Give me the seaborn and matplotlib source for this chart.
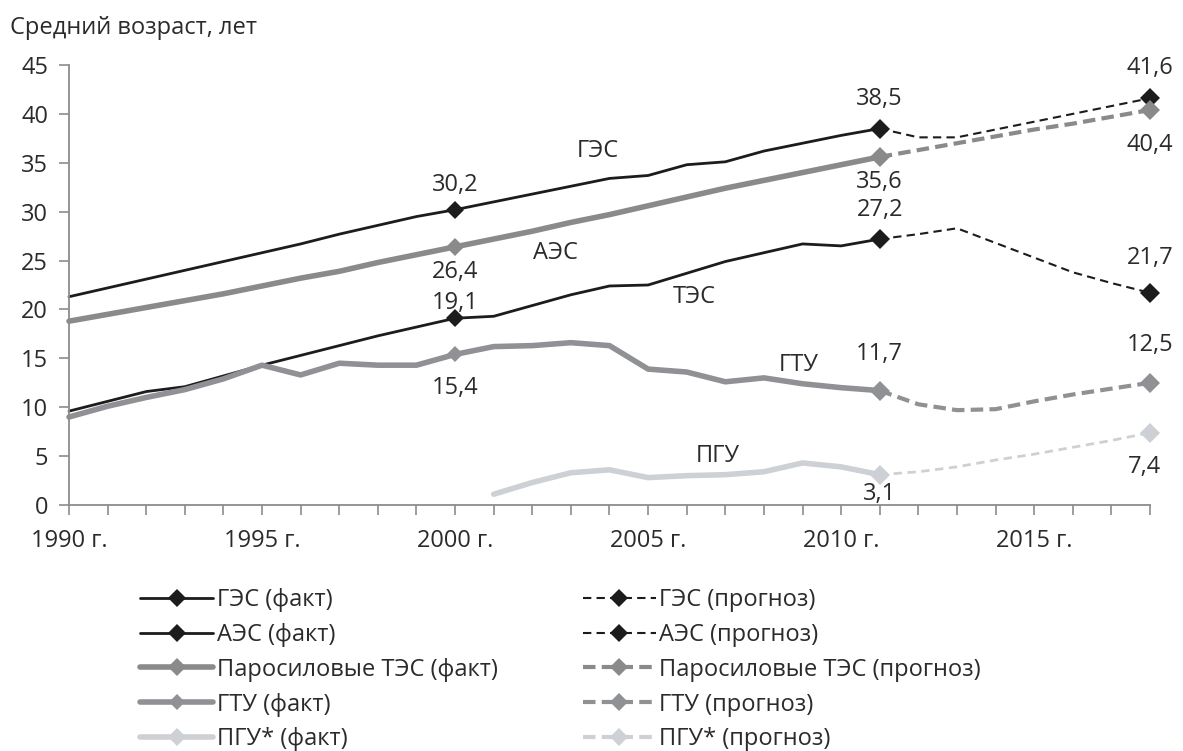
import matplotlib
matplotlib.use("Agg")
import matplotlib.pyplot as plt
import seaborn as sns
import pandas as pd
from matplotlib.lines import Line2D

# --- data: average age of generating capacity, years ---
years_fact = list(range(1990, 2012))
ges_fact = [21.3, 22.2, 23.1, 24.0, 24.9, 25.8, 26.7, 27.7, 28.6, 29.5, 30.2,
            31.0, 31.8, 32.6, 33.4, 33.7, 34.8, 35.1, 36.2, 37.0, 37.8, 38.5]
aes_fact = [18.8, 19.5, 20.2, 20.9, 21.6, 22.4, 23.2, 23.9, 24.8, 25.6, 26.4,
            27.2, 28.0, 28.9, 29.7, 30.6, 31.5, 32.4, 33.2, 34.0, 34.8, 35.6]
tes_fact = [9.6, 10.6, 11.6, 12.1, 13.2, 14.3, 15.3, 16.3, 17.3, 18.2, 19.1,
            19.3, 20.4, 21.5, 22.4, 22.5, 23.7, 24.9, 25.8, 26.7, 26.5, 27.2]
gtu_fact = [9.0, 10.1, 11.0, 11.8, 12.9, 14.3, 13.3, 14.5, 14.3, 14.3, 15.4,
            16.2, 16.3, 16.6, 16.3, 13.9, 13.6, 12.6, 13.0, 12.4, 12.0, 11.7]
years_pgu = list(range(2001, 2012))
pgu_fact = [1.1, 2.3, 3.3, 3.6, 2.8, 3.0, 3.1, 3.4, 4.3, 3.9, 3.1]

years_fc = list(range(2011, 2019))
ges_fc = [38.5, 37.6, 37.6, 38.4, 39.2, 40.0, 40.8, 41.6]
aes_fc = [35.6, 36.3, 37.0, 37.7, 38.4, 39.0, 39.7, 40.4]
tes_fc = [27.2, 27.7, 28.3, 26.8, 25.3, 23.8, 22.7, 21.7]
gtu_fc = [11.7, 10.3, 9.7, 9.8, 10.6, 11.3, 11.9, 12.5]
pgu_fc = [3.1, 3.4, 3.9, 4.6, 5.2, 5.9, 6.6, 7.4]

labelled_years = [2000, 2011, 2018]

series_names = ["ГЭС", "АЭС", "ТЭС", "ГТУ", "ПГУ"]
legend_fact = ["ГЭС (факт)", "АЭС (факт)", "Паросиловые ТЭС (факт)",
               "ГТУ (факт)", "ПГУ* (факт)"]
legend_fc = ["ГЭС (прогноз)", "АЭС (прогноз)", "Паросиловые ТЭС (прогноз)",
             "ГТУ (прогноз)", "ПГУ* (прогноз)"]
x_tick_years = [1990, 1995, 2000, 2005, 2010, 2015]
y_ticks = [0, 5, 10, 15, 20, 25, 30, 35, 40, 45]

# --- styling ---
sns.set_style("ticks")
plt.rcParams["font.family"] = ["Open Sans", "DejaVu Sans"]
TXT = "#2b2b2b"
BLACK = "#1c1c1c"
GRAY = "#8a8a8a"
GRAY2 = "#8f9194"
LIGHT = "#cdd1d5"
AXIS = "#8c8c8c"
FS = 17

fig = plt.figure(figsize=(11.83, 7.51), dpi=100)
ax = fig.add_axes([69 / 1183, 1 - 505 / 751, (1150 - 69) / 1183, (505 - 65) / 751])

black_style = dict(color=BLACK, lw=2.0, ms=9)
gray_style = dict(color=GRAY, lw=4.0, ms=9)
gtu_style = dict(color=GRAY2, lw=4.0, ms=8)
light_style = dict(color=LIGHT, lw=4.0, ms=9)

fact = [
    (years_fact, ges_fact, black_style),
    (years_fact, tes_fact, black_style),
    (years_fact, aes_fact, gray_style),
    (years_fact, gtu_fact, gtu_style),
    (years_pgu, pgu_fact, light_style),
]
fc_styles = [
    (ges_fc, dict(color=BLACK, lw=1.5, ms=10, dashes=(4, 2.5))),
    (tes_fc, dict(color=BLACK, lw=1.5, ms=10, dashes=(4, 2.5))),
    (aes_fc, dict(color=GRAY, lw=3.0, ms=10, dashes=(3, 1.5))),
    (gtu_fc, dict(color=GRAY2, lw=3.0, ms=10, dashes=(3, 1.5))),
    (pgu_fc, dict(color=LIGHT, lw=2.0, ms=10, dashes=(3, 2))),
]


def draw(xs, ys, style):
    df = pd.DataFrame({"year": xs, "age": ys})
    idx = [i for i, yv in enumerate(xs) if yv in labelled_years]
    st = dict(style)
    dashes = st.pop("dashes", None)
    ms = st.pop("ms")
    sns.lineplot(data=df, x="year", y="age", ax=ax, marker="D", markersize=ms,
                 markevery=idx, markeredgewidth=0, markerfacecolor=st["color"],
                 **st)
    if dashes is not None:
        ax.lines[-1].set_dashes(dashes)


for xs, ys, st in fact:
    draw(xs, ys, st)
for ys, st in fc_styles:
    draw(years_fc, ys, st)

# --- value labels ---
def fmt(v):
    return f"{v:.1f}".replace(".", ",")

value_labels = [
    # (x, series, years, vertical offset in points)
    (2000, ges_fact, years_fact, 18),
    (2000, aes_fact, years_fact, -18),
    (2000, tes_fact, years_fact, 11),
    (2000, gtu_fact, years_fact, -24),
    (2011, ges_fact, years_fact, 21),
    (2011, aes_fact, years_fact, -18),
    (2011, tes_fact, years_fact, 21),
    (2011, gtu_fact, years_fact, 26),
    (2011, pgu_fact, years_pgu, -14),
    (2018, ges_fc, years_fc, 22),
    (2018, aes_fc, years_fc, -25),
    (2018, tes_fc, years_fc, 25),
    (2018, gtu_fc, years_fc, 27),
    (2018, pgu_fc, years_fc, -25),
]
for xv, ser, xs, dy in value_labels:
    v = ser[xs.index(xv)]
    dx = -4 if (xv == 2018 and ser is pgu_fc) else 0
    ax.annotate(fmt(v), (xv, v), xytext=(dx, dy), textcoords="offset points",
                ha="center", va="center", fontsize=FS, color=TXT)

# --- series names inside the plot ---
name_pos = [(2003.7, 36.2), (2002.6, 25.8), (2006.2, 21.3), (2008.9, 14.3), (2006.8, 5.0)]
for name, (xp, yp) in zip(series_names, name_pos):
    ax.text(xp, yp, name, ha="center", va="center", fontsize=FS, color=TXT)

# --- axes ---
ax.set_xlim(1990, 2018)
ax.set_ylim(0, 45)
ax.set_xticks(range(1990, 2019), minor=True)
ax.set_xticks(x_tick_years)
ax.set_xticklabels([f"{y} г." for y in x_tick_years])
ax.set_yticks(y_ticks)
ax.set_xlabel("")
ax.set_ylabel("")
sns.despine(ax=ax)
for sp in ("left", "bottom"):
    ax.spines[sp].set_color(AXIS)
    ax.spines[sp].set_linewidth(1.3)
ax.tick_params(axis="both", which="both", colors=AXIS, labelcolor=TXT,
               labelsize=FS, width=1.2)
ax.tick_params(axis="y", length=7, pad=8)
ax.tick_params(axis="x", which="both", length=7, pad=10)
for ln in ax.lines:
    ln.set_clip_on(False)

fig.text(10 / 1183, 1 - 28 / 751, "Средний возраст, лет", fontsize=FS,
         color=TXT, ha="left", va="center")

# --- legend ---
def handle(style, dashes=None):
    st = dict(style)
    st.pop("dashes", None)
    ms = st.pop("ms")
    h = Line2D([0], [0], color=st["color"], lw=st["lw"], marker="D",
               markersize=ms, markeredgewidth=0)
    if dashes is not None:
        h.set_dashes(dashes)
    return h

h_fact = [handle(black_style), handle(black_style), handle(gray_style),
          handle(gtu_style), handle(light_style)]
h_fc = [handle(dict(color=BLACK, lw=1.5, ms=9), (4, 2.5)),
        handle(dict(color=BLACK, lw=1.5, ms=9), (4, 2.5)),
        handle(dict(color=GRAY, lw=3.0, ms=9), (3, 1.5)),
        handle(dict(color=GRAY2, lw=3.0, ms=9), (3, 1.5)),
        handle(dict(color=LIGHT, lw=3.0, ms=9), (3, 1.5))]

leg = fig.legend(h_fact + h_fc, legend_fact + legend_fc, ncol=2,
                 loc="upper left", bbox_to_anchor=(140 / 1183, 1 - 588 / 751),
                 frameon=False, fontsize=FS, handlelength=3.1, handletextpad=0.15,
                 labelspacing=0.46, columnspacing=3.6, borderpad=0,
                 borderaxespad=0, numpoints=1, labelcolor=TXT)

fig.savefig("out.png", dpi=100)
